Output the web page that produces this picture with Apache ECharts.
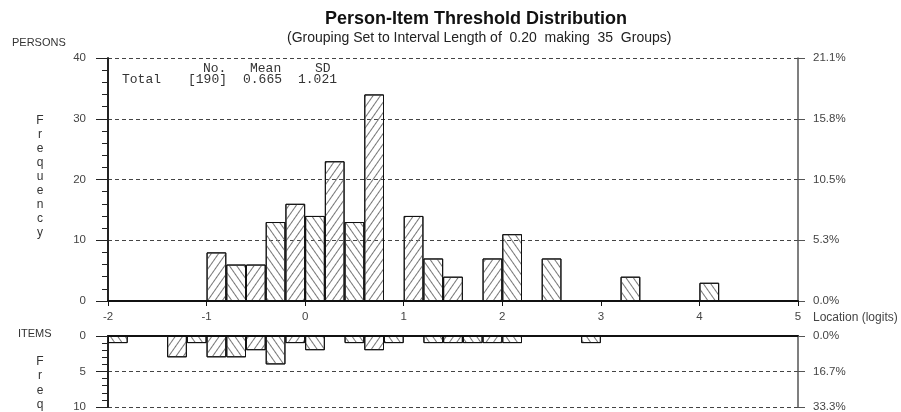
<!DOCTYPE html>
<html>
<head>
<meta charset="utf-8">
<script src="https://cdn.jsdelivr.net/npm/echarts@6/dist/echarts.min.js"></script>
<style>
  html, body { margin: 0; padding: 0; background: #fff; }
  #chart { width: 901px; height: 412px; }
</style>
</head>
<body>
<div id="chart"></div>
<script>
// 35 groups of width 0.20 logits, starting at -2
const binStart = -2;
const binWidth = 0.2;

// Persons per group (total 190)
const personCounts = [
  0, 0, 0, 0, 0,   8, 6, 6, 13, 16,
  14, 23, 13, 34, 0,   14, 7, 4, 0, 7,
  11, 0, 7, 0, 0,   0, 4, 0, 0, 0,
  3, 0, 0, 0, 0
];

// Item thresholds per group (total 30)
const itemCounts = [
  1, 0, 0, 3, 1,   3, 3, 2, 4, 1,
  2, 0, 1, 2, 1,   0, 1, 1, 1, 1,
  1, 0, 0, 0, 1,   0, 0, 0, 0, 0,
  0, 0, 0, 0, 0
];

const statsHeader = ['No.', 'Mean', 'SD'];
const statsRow = ['Total', '[190]', '0.665', '1.021'];

const personTotal = personCounts.reduce((a, b) => a + b, 0);
const itemTotal = itemCounts.reduce((a, b) => a + b, 0);

const binCenters = personCounts.map((_, i) => +(binStart + binWidth * i + binWidth / 2).toFixed(2));

// Split groups into two alternating sets so each gets its own hatch direction
function parityData(counts, parity) {
  return counts.map((v, i) => [binCenters[i], (i % 2 === parity && v > 0) ? v : '-']);
}

const FONT = 'Liberation Sans, Arial, sans-serif';
const MONO = 'Liberation Mono, Courier New, monospace';
const LABEL = { fontFamily: FONT, fontSize: 11.5, color: '#444' };

function hatch(rot) {
  return {
    symbol: 'rect',
    symbolSize: 1,
    dashArrayX: [1, 0],
    dashArrayY: [1, 4.5],
    rotation: rot,
    color: '#777'
  };
}

function barSeries(counts, parity, xi, yi) {
  return {
    type: 'bar',
    xAxisIndex: xi,
    yAxisIndex: yi,
    data: parityData(counts, parity),
    barWidth: '100%',
    barGap: '-100%',
    silent: true,
    itemStyle: {
      color: 'rgba(255,255,255,0)',
      borderColor: '#111',
      borderWidth: 1,
      // odd groups lean "/", even groups lean "\"
      decal: hatch(parity === 1 ? -0.96 : 0.96)
    }
  };
}

const pct = (total) => (v) => (v / total * 100).toFixed(1) + '%';

function leftAxis(gridIndex, max, interval, inverse) {
  return {
    type: 'value', gridIndex, min: 0, max, interval, inverse, position: 'left',
    axisLine: { show: true, onZero: false, lineStyle: { color: '#222', width: 2 } },
    axisTick: { show: true, length: 12, lineStyle: { color: '#222' } },
    minorTick: { show: true, splitNumber: 5, length: 6, lineStyle: { color: '#222' } },
    axisLabel: Object.assign({ margin: 22 }, LABEL),
    splitLine: { show: true, lineStyle: { color: '#444', type: [4, 3], width: 1 } }
  };
}

function rightAxis(gridIndex, max, interval, inverse, total) {
  return {
    type: 'value', gridIndex, min: 0, max, interval, inverse, position: 'right',
    axisLine: { show: true, onZero: false, lineStyle: { color: '#555', width: 1.5 } },
    axisTick: { show: true, length: 7, lineStyle: { color: '#555' } },
    axisLabel: Object.assign({ margin: 15, formatter: pct(total) }, LABEL),
    splitLine: { show: false }
  };
}

const chart = echarts.init(document.getElementById('chart'), null, { renderer: 'canvas' });

chart.setOption({
  animation: false,
  backgroundColor: '#fff',
  grid: [
    { left: 108, right: 103, top: 58, height: 243, outerBoundsMode: 'none', containLabel: false },
    { left: 108, right: 103, top: 336, height: 71, outerBoundsMode: 'none', containLabel: false }
  ],
  xAxis: [
    {
      type: 'value', gridIndex: 0, min: -2, max: 5, interval: 1,
      axisLine: { show: true, onZero: false, lineStyle: { color: '#111', width: 2 } },
      axisTick: { show: true, length: 5, lineStyle: { color: '#111', width: 1 } },
      axisLabel: Object.assign({ margin: 10 }, LABEL),
      splitLine: { show: false }
    },
    {
      type: 'value', gridIndex: 1, min: -2, max: 5, interval: 1, position: 'top',
      axisLine: { show: true, onZero: false, lineStyle: { color: '#111', width: 2 } },
      axisTick: { show: false },
      axisLabel: { show: false },
      splitLine: { show: false }
    }
  ],
  yAxis: [
    leftAxis(0, 40, 10, false),
    rightAxis(0, 40, 10, false, personTotal),
    leftAxis(1, 10, 5, true),
    rightAxis(1, 10, 5, true, itemTotal)
  ],
  series: [
    barSeries(personCounts, 1, 0, 0),
    barSeries(personCounts, 0, 0, 0),
    barSeries(itemCounts, 1, 1, 2),
    barSeries(itemCounts, 0, 1, 2)
  ],
  graphic: [
    { type: 'text', left: 325, top: 10, style: { text: 'Person-Item Threshold Distribution', font: 'bold 18px ' + FONT, fill: '#111' } },
    { type: 'text', left: 287, top: 31, style: { text: '(Grouping Set to Interval Length of  0.20  making  35  Groups)', font: '14px ' + FONT, fill: '#222' } },
    { type: 'text', left: 12, top: 37, style: { text: 'PERSONS', font: '11px ' + FONT, fill: '#333' } },
    { type: 'text', left: 18, top: 328, style: { text: 'ITEMS', font: '11px ' + FONT, fill: '#333' } },
    { type: 'text', x: 40, y: 177, style: { text: 'Frequency'.split('').join('\n'), font: '12px ' + FONT, fill: '#333', align: 'center', verticalAlign: 'middle', lineHeight: 14 } },
    { type: 'text', x: 40, y: 383, style: { text: 'Freq'.split('').join('\n'), font: '12px ' + FONT, fill: '#333', align: 'center', verticalAlign: 'middle', lineHeight: 14.5 } },
    { type: 'text', x: 813, y: 318, style: { text: 'Location (logits)', font: '12px ' + FONT, fill: '#444', align: 'left', verticalAlign: 'middle' } },
    { type: 'text', x: 203, y: 69, style: { text: statsHeader[0], font: '13px ' + MONO, fill: '#333', verticalAlign: 'middle' } },
    { type: 'text', x: 250, y: 69, style: { text: statsHeader[1], font: '13px ' + MONO, fill: '#333', verticalAlign: 'middle' } },
    { type: 'text', x: 315, y: 69, style: { text: statsHeader[2], font: '13px ' + MONO, fill: '#333', verticalAlign: 'middle' } },
    { type: 'text', x: 122, y: 80, style: { text: statsRow[0], font: '13px ' + MONO, fill: '#333', verticalAlign: 'middle' } },
    { type: 'text', x: 188, y: 80, style: { text: statsRow[1], font: '13px ' + MONO, fill: '#333', verticalAlign: 'middle' } },
    { type: 'text', x: 243, y: 80, style: { text: statsRow[2], font: '13px ' + MONO, fill: '#333', verticalAlign: 'middle' } },
    { type: 'text', x: 298, y: 80, style: { text: statsRow[3], font: '13px ' + MONO, fill: '#333', verticalAlign: 'middle' } }
  ]
});
</script>
</body>
</html>
